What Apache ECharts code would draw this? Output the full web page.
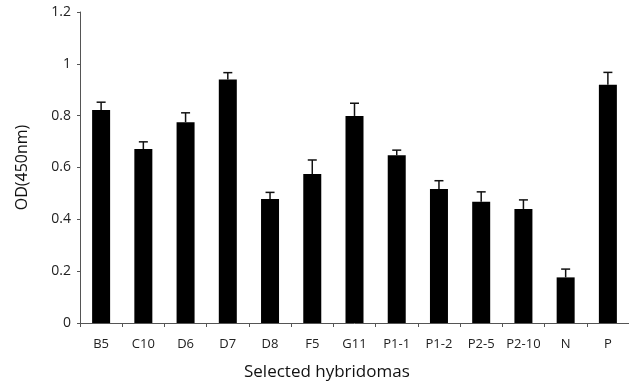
<!DOCTYPE html>
<html>
<head>
<meta charset="utf-8">
<script src="https://cdn.jsdelivr.net/npm/echarts@6/dist/echarts.min.js"></script>
<style>
  html, body { margin: 0; padding: 0; background: #fff; }
  #chart { width: 629px; height: 386px; }
</style>
</head>
<body>
<div id="chart"></div>
<script>
// Data
const hybridomas = ['B5', 'C10', 'D6', 'D7', 'D8', 'F5', 'G11', 'P1-1', 'P1-2', 'P2-5', 'P2-10', 'N', 'P'];
const odValues = [0.822, 0.671, 0.775, 0.940, 0.478, 0.575, 0.799, 0.647, 0.517, 0.468, 0.440, 0.176, 0.919];
const odErrors = [0.030, 0.028, 0.036, 0.026, 0.026, 0.054, 0.049, 0.020, 0.032, 0.038, 0.035, 0.032, 0.048];
const yTicks = [0, 0.2, 0.4, 0.6, 0.8, 1, 1.2];

const chart = echarts.init(document.getElementById('chart'));
const fontFam = '"Open Sans", "Noto Sans", sans-serif';

// Upper error bar only (line + cap)
const errData = hybridomas.map((c, i) => [i, odValues[i], odValues[i] + odErrors[i]]);

const option = {
    animation: false,
    grid: { left: 80, right: -7, top: 12, bottom: 63 },
    title: {
        text: 'Selected hybridomas',
        left: 239,
        top: 359,
        textStyle: { fontFamily: fontFam, fontSize: 17, fontWeight: 'normal', color: '#111' }
    },
    xAxis: {
        type: 'category',
        data: hybridomas,
        axisLine: { lineStyle: { color: '#555', width: 1 } },
        axisTick: { show: true, length: 4, lineStyle: { color: '#555' } },
        axisLabel: { fontFamily: fontFam, fontSize: 13, color: '#222', margin: 15, interval: 0 }
    },
    yAxis: {
        type: 'value',
        min: 0,
        max: 1.2,
        interval: 0.2,
        name: 'OD(450nm)',
        nameLocation: 'middle',
        nameGap: 50,
        nameTextStyle: { fontFamily: fontFam, fontSize: 16, color: '#111' },
        axisLine: { show: true, lineStyle: { color: '#555', width: 1 } },
        axisTick: { show: true, length: 3, lineStyle: { color: '#555' } },
        splitLine: { show: false },
        axisLabel: {
            fontFamily: fontFam, fontSize: 14, color: '#222', margin: 9,
            formatter: v => {
                const t = yTicks.find(x => Math.abs(x - v) < 1e-6);
                return t === undefined ? '' : String(t);
            }
        }
    },
    series: [
        {
            type: 'bar',
            data: odValues,
            barWidth: 18,
            itemStyle: { color: '#000' }
        },
        {
            type: 'custom',
            data: errData,
            z: 1,
            renderItem: (params, api) => {
                const x = api.value(0);
                const lo = api.coord([x, api.value(1)]);
                const hi = api.coord([x, api.value(2)]);
                const half = 4.5;
                const style = { stroke: '#111', lineWidth: 1.5 };
                return {
                    type: 'group',
                    children: [
                        { type: 'line', shape: { x1: lo[0], y1: lo[1], x2: hi[0], y2: hi[1] }, style },
                        { type: 'line', shape: { x1: hi[0] - half, y1: hi[1], x2: hi[0] + half, y2: hi[1] }, style }
                    ]
                };
            }
        }
    ]
};

chart.setOption(option);
</script>
</body>
</html>
